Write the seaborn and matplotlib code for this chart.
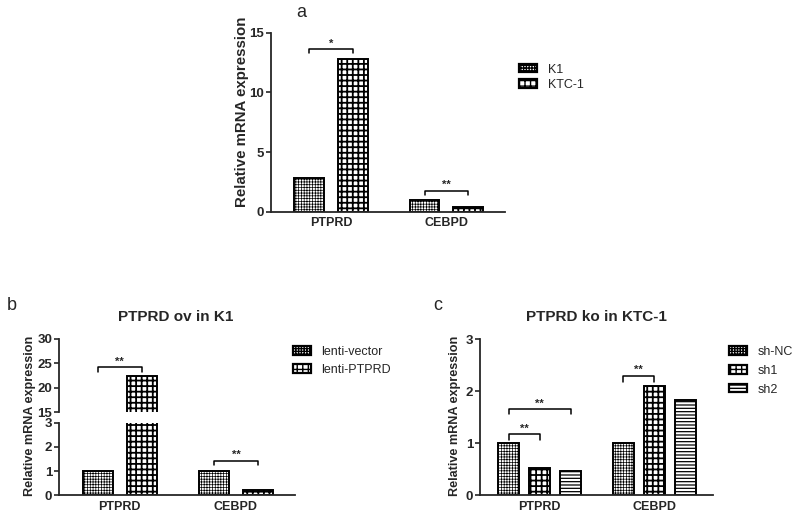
import matplotlib
matplotlib.use('Agg')
import matplotlib.pyplot as plt
import matplotlib.patches as mpatches
import seaborn as sns
import pandas as pd

# Data
genes = ['PTPRD', 'CEBPD']

groups_a = ['K1', 'KTC-1']
k1 = [2.85, 1.0]
ktc1 = [12.8, 0.4]

groups_b = ['lenti-vector', 'lenti-PTPRD']
lenti_vector = [1.0, 1.0]
lenti_ptprd = [22.4, 0.2]

groups_c = ['sh-NC', 'sh1', 'sh2']
sh_nc = [1.0, 1.0]
sh1 = [0.52, 2.1]
sh2 = [0.47, 1.82]

# significance brackets: (gene index, first bar, second bar, height, drop, label)
sig_a = [(0, 0, 1, 13.6, 0.3, '*'), (1, 0, 1, 1.76, 0.34, '**')]
sig_b_top = [(0, 0, 1, 24.2, 1.0, '**')]
sig_b_bot = [(1, 0, 1, 1.42, 0.17, '**')]
sig_c = [(0, 0, 1, 1.17, 0.11, '**'), (0, 0, 2, 1.65, 0.09, '**'), (1, 0, 1, 2.29, 0.12, '**')]

hatches = ['++++++', '+++', '-----']
hatch_lw = [0.5, 1.3, 0.9]

sns.set_style('ticks')
plt.rcParams['font.family'] = ['Liberation Sans', 'DejaVu Sans']
plt.rcParams['hatch.linewidth'] = 1.0


def make_df(groups, series):
    rows = []
    for g, vals in zip(groups, series):
        for gene, v in zip(genes, vals):
            rows.append({'gene': gene, 'group': g, 'value': v})
    return pd.DataFrame(rows)


def draw_bars(ax, df, groups, width, gap):
    sns.barplot(data=df, x='gene', y='value', hue='group', order=genes, hue_order=groups,
                palette={g: 'white' for g in groups}, saturation=1, edgecolor='black',
                linewidth=1.4, width=width, gap=gap, legend=False, ax=ax)
    for cont, h, lw in zip(ax.containers, hatches, hatch_lw):
        for bar in cont:
            bar.set_hatch(h)
            if hasattr(bar, 'set_hatch_linewidth'):
                bar.set_hatch_linewidth(lw)
    ax.set_xlim(-0.52, 1.51)
    ax.set_xlabel('')
    ax.set_ylabel('')
    ax.tick_params(axis='x', length=0, labelsize=9, pad=4)
    ax.tick_params(axis='y', length=3.5, width=1.2, labelsize=9.5, pad=1.5)
    for lab in ax.get_xticklabels() + ax.get_yticklabels():
        lab.set_fontweight('bold')
    for s in ['left', 'bottom']:
        ax.spines[s].set_linewidth(1.3)
    sns.despine(ax=ax)


def add_sig(ax, sigs):
    for gi, b1, b2, y, drop, txt in sigs:
        p1 = ax.containers[b1][gi]
        p2 = ax.containers[b2][gi]
        x1 = p1.get_x() + p1.get_width() / 2
        x2 = p2.get_x() + p2.get_width() / 2
        ax.plot([x1, x1, x2, x2], [y - drop, y, y, y - drop], color='black', lw=1.1,
                clip_on=False)
        ax.annotate(txt, xy=((x1 + x2) / 2, y), xytext=(0, 0.5), textcoords='offset points',
                    ha='center', va='bottom', fontsize=8, fontweight='bold')


def add_legend(groups, x, y, spacing):
    handles = []
    for g, h, lw in zip(groups, hatches, hatch_lw):
        p = mpatches.Patch(facecolor='white', edgecolor='black', hatch=h, lw=1.6, label=g)
        if hasattr(p, 'set_hatch_linewidth'):
            p.set_hatch_linewidth(lw)
        handles.append(p)
    fig.legend(handles=handles, loc='upper left', bbox_to_anchor=(x, y), frameon=False,
               fontsize=9, handlelength=1.45, handleheight=0.65, handletextpad=0.85,
               labelspacing=spacing, borderaxespad=0, borderpad=0)


fig = plt.figure(figsize=(8, 5.18), dpi=100)

# panel a
ax_a = fig.add_axes([0.339, 0.591, 0.2925, 0.346])
draw_bars(ax_a, make_df(groups_a, [k1, ktc1]), groups_a, 0.76, 0.32)
ax_a.set_ylim(0, 15)
ax_a.set_yticks([0, 5, 10, 15])
add_sig(ax_a, sig_a)
fig.text(0.303, 0.785, 'Relative mRNA expression', rotation=90, ha='center', va='center',
         fontsize=10.8, fontweight='bold')
fig.text(0.376, 0.975, 'a', ha='center', va='center', fontsize=13)
add_legend(groups_a, 0.649, 0.877, 0.26)

# panel b (broken axis)
ax_bt = fig.add_axes([0.074, 0.2046, 0.295, 0.141])
ax_bb = fig.add_axes([0.074, 0.0444, 0.295, 0.139])
df_b = make_df(groups_b, [lenti_vector, lenti_ptprd])
draw_bars(ax_bt, df_b, groups_b, 0.76, 0.32)
draw_bars(ax_bb, df_b, groups_b, 0.76, 0.32)
ax_bt.set_ylim(15, 30)
ax_bt.set_yticks([15, 20, 25, 30])
ax_bt.spines['bottom'].set_visible(False)
ax_bt.tick_params(axis='x', labelbottom=False)
ax_bb.set_ylim(0, 3)
ax_bb.set_yticks([0, 1, 2, 3])
add_sig(ax_bt, sig_b_top)
add_sig(ax_bb, sig_b_bot)
fig.text(0.038, 0.197, 'Relative mRNA expression', rotation=90, ha='center', va='center',
         fontsize=9.1, fontweight='bold')
fig.text(0.22, 0.388, 'PTPRD ov in K1', ha='center', va='center', fontsize=11,
         fontweight='bold')
fig.text(0.015, 0.41, 'b', ha='center', va='center', fontsize=13)
add_legend(groups_b, 0.366, 0.332, 0.46)

# panel c
ax_c = fig.add_axes([0.6, 0.0444, 0.291, 0.301])
draw_bars(ax_c, make_df(groups_c, [sh_nc, sh1, sh2]), groups_c, 0.81, 0.33)
ax_c.set_ylim(0, 3)
ax_c.set_yticks([0, 1, 2, 3])
add_sig(ax_c, sig_c)
fig.text(0.569, 0.197, 'Relative mRNA expression', rotation=90, ha='center', va='center',
         fontsize=9.1, fontweight='bold')
fig.text(0.746, 0.388, 'PTPRD ko in KTC-1', ha='center', va='center', fontsize=11,
         fontweight='bold')
fig.text(0.547, 0.41, 'c', ha='center', va='center', fontsize=13)
add_legend(groups_c, 0.911, 0.332, 0.54)

fig.savefig('out.png', dpi=100)
